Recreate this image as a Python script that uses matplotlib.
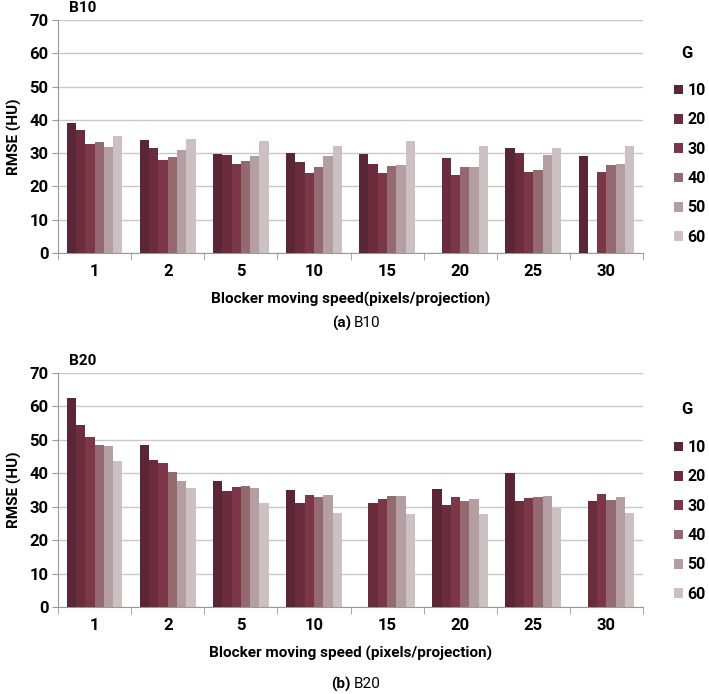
import numpy as np
import matplotlib
matplotlib.use("Agg")
import matplotlib.pyplot as plt

plt.rcParams['font.family'] = ['Roboto', 'DejaVu Sans']

speeds = ["1", "2", "5", "10", "15", "20", "25", "30"]
g_labels = ["10", "20", "30", "40", "50", "60"]
nan = np.nan

# B10: one list per G value, across the speeds
b10_g10 = [39.2, 33.8, 29.7, 30.0, 29.7, nan, 31.4, 29.2]
b10_g20 = [37.0, 31.6, 29.5, 27.3, 26.7, 28.6, 29.9, nan]
b10_g30 = [32.8, 27.8, 26.7, 24.0, 24.0, 23.5, 24.3, 24.3]
b10_g40 = [33.2, 28.8, 27.6, 25.7, 26.1, 25.9, 24.8, 26.4]
b10_g50 = [31.7, 30.8, 29.0, 29.0, 26.5, 25.9, 29.5, 26.8]
b10_g60 = [35.2, 34.2, 33.6, 32.2, 33.6, 32.2, 31.6, 32.2]

# B20
b20_g10 = [62.5, 48.5, 37.8, 35.0, nan, 35.3, 40.1, nan]
b20_g20 = [54.3, 44.0, 34.8, 31.2, 31.1, 30.4, 31.8, 31.8]
b20_g30 = [50.9, 43.2, 36.0, 33.5, 32.4, 32.8, 32.5, 33.7]
b20_g40 = [48.5, 40.5, 36.3, 32.8, 33.3, 31.8, 32.9, 32.0]
b20_g50 = [48.1, 37.8, 35.5, 33.5, 33.1, 32.3, 33.1, 32.8]
b20_g60 = [43.6, 35.6, 31.0, 28.0, 27.7, 27.9, 29.7, 28.1]

colors = ["#5a2535", "#6b2c3d", "#7b3748", "#94696f", "#b39ea1", "#ccc0c3"]
grid_c = "#c8c8c8"

fig = plt.figure(figsize=(7.09, 6.94), dpi=100)
W, H = 709.0, 694.0
FS = 12
LFS = 11


def panel(top_px, bottom_px, series, name, xlab, leg_top):
    ax = fig.add_axes([58 / W, 1 - bottom_px / H, (643 - 58) / W, (bottom_px - top_px) / H])
    x = np.arange(len(speeds))
    bw = 0.127
    for i, vals in enumerate(series):
        ax.bar(x + (i - 2.5) * bw, vals, width=bw, color=colors[i], label=g_labels[i], zorder=3)
    ax.set_xlim(-0.5, len(speeds) - 0.5)
    ax.set_ylim(0, 70)
    ax.set_yticks(range(0, 71, 10))
    ax.set_xticks(x)
    ax.set_xticklabels(speeds, fontsize=FS, fontweight='bold')
    ax.set_xticks(np.arange(-0.5, len(speeds), 1), minor=True)
    ax.tick_params(axis='x', which='major', length=0, pad=8)
    ax.tick_params(axis='x', which='minor', length=5, color="#999999", direction='out')
    ax.tick_params(axis='y', length=4, color="#999999", labelsize=FS, pad=3)
    for t in ax.get_yticklabels():
        t.set_fontweight('bold')
    ax.grid(axis='y', color=grid_c, linewidth=1, zorder=0)
    for s in ['top', 'right']:
        ax.spines[s].set_visible(False)
    ax.spines['left'].set_color("#999999")
    ax.spines['bottom'].set_color("#999999")
    ax.set_ylabel("RMSE (HU)", fontsize=LFS, fontweight='bold', labelpad=5)
    ax.set_xlabel(xlab, fontsize=LFS, fontweight='bold', labelpad=9)
    fig.text(69 / W, 1 - (top_px - 12) / H, name,
             fontsize=LFS, fontweight='bold', va='center', ha='left')
    # legend
    fig.text(687 / W, 1 - leg_top / H, "G", fontsize=FS, fontweight='bold',
             ha='center', va='center')
    handles, labels = ax.get_legend_handles_labels()
    leg = fig.legend(handles, labels, loc='upper left',
                     bbox_to_anchor=(666 / W, 1 - (leg_top + 22) / H),
                     frameon=False, fontsize=11.5, handlelength=0.55, handleheight=0.55,
                     handletextpad=0.3, labelspacing=0.9, borderpad=0)
    for t in leg.get_texts():
        t.set_fontweight('bold')
    return ax


panel(20, 253, [b10_g10, b10_g20, b10_g30, b10_g40, b10_g50, b10_g60],
      "B10", "Blocker moving speed(pixels/projection)", 53)
panel(373, 607, [b20_g10, b20_g20, b20_g30, b20_g40, b20_g50, b20_g60],
      "B20", "Blocker moving speed (pixels/projection)", 410)

# sub captions
fig.text(351 / W, 1 - 323 / H, "(a)", fontsize=LFS, fontweight='bold', ha='right', va='center')
fig.text(354 / W, 1 - 323 / H, "B10", fontsize=LFS, ha='left', va='center')
fig.text(351 / W, 1 - 684 / H, "(b)", fontsize=LFS, fontweight='bold', ha='right', va='center')
fig.text(354 / W, 1 - 684 / H, "B20", fontsize=LFS, ha='left', va='center')

fig.savefig("out.png", dpi=100)
